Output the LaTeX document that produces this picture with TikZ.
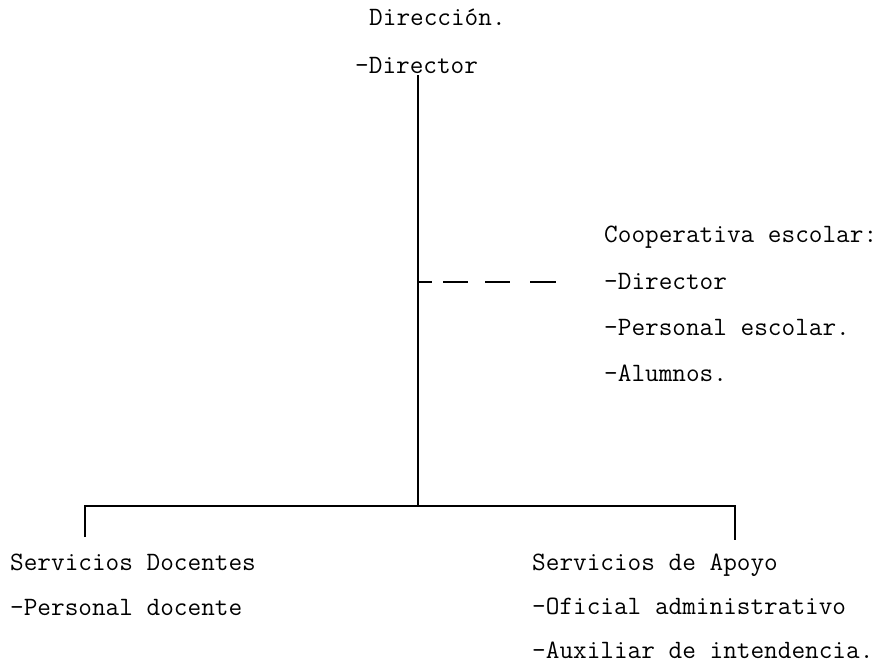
\documentclass[tikz,border=0pt]{standalone}
\begin{document}
\begin{tikzpicture}[x=1pt,y=-1pt,
  lbl/.style={anchor=base west,inner sep=0pt,font=\ttfamily\fontsize{26.5}{30}\selectfont},
  ln/.style={line width=1.4pt},
  dashln/.style={line width=1.4pt,dash pattern=on 14pt off 11pt on 25pt off 17pt on 25pt off 20pt on 26pt}]
\useasboundingbox (0,0) rectangle (893,669);
% top
\node[lbl] (dir) at (369,26) {Dirección.};
\node[lbl] (dirp) at (355,73) {-Director};
% cooperative
\node[lbl] (coop) at (604,242) {Cooperativa escolar:};
\node[lbl] (cdir) at (604,289) {-Director};
\node[lbl] (cper) at (604,335) {-Personal escolar.};
\node[lbl] (calu) at (604,381) {-Alumnos.};
% bottom left
\node[lbl] (sdoc) at (10,570) {Servicios Docentes};
\node[lbl] (pdoc) at (10,615) {-Personal docente};
% bottom right
\node[lbl] (sapo) at (532,570) {Servicios de Apoyo};
\node[lbl] (ofi) at (532,614) {-Oficial administrativo};
\node[lbl] (aux) at (532,658) {-Auxiliar de intendencia.};
% coordinates
\coordinate (top) at (418,75);
\coordinate (junc) at (418,506);
\coordinate (lft) at (85,506);
\coordinate (lftend) at (85,537);
\coordinate (rgt) at (735,506);
\coordinate (rgtend) at (735,540);
\coordinate (dstart) at (418,282);
\coordinate (dend) at (556,282);
% lines
\draw[ln] (top) -- (junc);
\draw[ln] (lftend) -- (lft) -- (rgt) -- (rgtend);
\draw[dashln] (dstart) -- (dend);
\end{tikzpicture}
\end{document}
